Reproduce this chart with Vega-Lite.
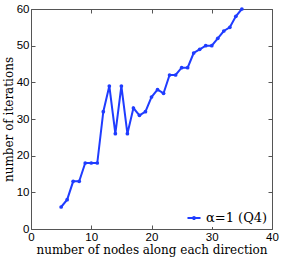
{
  "$schema": "https://vega.github.io/schema/vega-lite/v6.json",
  "autosize": "none",
  "width": 241,
  "height": 220,
  "padding": {"left": 31, "top": 9, "right": 9, "bottom": 30},
  "background": "white",
  "config": {
    "view": {"stroke": "#555555", "strokeWidth": 1},
    "axis": {
      "grid": false,
      "domain": false,
      "tickColor": "#555555",
      "tickSize": -4,
      "labelFont": "Liberation Sans",
      "labelFontSize": 11.5,
      "labelColor": "black",
      "titleFont": "DejaVu Serif",
      "titleFontSize": 12,
      "titleFontWeight": "normal",
      "titleColor": "black"
    }
  },
  "data": {
    "values": [
      {"n": 5, "it": 6, "s": "α=1 (Q4)"},
      {"n": 6, "it": 8, "s": "α=1 (Q4)"},
      {"n": 7, "it": 13, "s": "α=1 (Q4)"},
      {"n": 8, "it": 13, "s": "α=1 (Q4)"},
      {"n": 9, "it": 18, "s": "α=1 (Q4)"},
      {"n": 10, "it": 18, "s": "α=1 (Q4)"},
      {"n": 11, "it": 18, "s": "α=1 (Q4)"},
      {"n": 12, "it": 32, "s": "α=1 (Q4)"},
      {"n": 13, "it": 39, "s": "α=1 (Q4)"},
      {"n": 14, "it": 26, "s": "α=1 (Q4)"},
      {"n": 15, "it": 39, "s": "α=1 (Q4)"},
      {"n": 16, "it": 26, "s": "α=1 (Q4)"},
      {"n": 17, "it": 33, "s": "α=1 (Q4)"},
      {"n": 18, "it": 31, "s": "α=1 (Q4)"},
      {"n": 19, "it": 32, "s": "α=1 (Q4)"},
      {"n": 20, "it": 36, "s": "α=1 (Q4)"},
      {"n": 21, "it": 38, "s": "α=1 (Q4)"},
      {"n": 22, "it": 37, "s": "α=1 (Q4)"},
      {"n": 23, "it": 42, "s": "α=1 (Q4)"},
      {"n": 24, "it": 42, "s": "α=1 (Q4)"},
      {"n": 25, "it": 44, "s": "α=1 (Q4)"},
      {"n": 26, "it": 44, "s": "α=1 (Q4)"},
      {"n": 27, "it": 48, "s": "α=1 (Q4)"},
      {"n": 28, "it": 49, "s": "α=1 (Q4)"},
      {"n": 29, "it": 50, "s": "α=1 (Q4)"},
      {"n": 30, "it": 50, "s": "α=1 (Q4)"},
      {"n": 31, "it": 52, "s": "α=1 (Q4)"},
      {"n": 32, "it": 54, "s": "α=1 (Q4)"},
      {"n": 33, "it": 55, "s": "α=1 (Q4)"},
      {"n": 34, "it": 58, "s": "α=1 (Q4)"},
      {"n": 35, "it": 60, "s": "α=1 (Q4)"}
    ]
  },
  "layer": [
    {
      "mark": {"type": "line", "point": {"size": 14, "filled": true}, "strokeWidth": 2},
      "encoding": {
        "x": {
          "field": "n", "type": "quantitative",
          "scale": {"domain": [0, 40], "nice": false},
          "axis": {"values": [0, 10, 20, 30, 40], "title": "number of nodes along each direction", "labelPadding": 6, "titlePadding": 2, "labelFlush": false}
        },
        "y": {
          "field": "it", "type": "quantitative",
          "scale": {"domain": [0, 60], "nice": false},
          "axis": {"values": [0, 10, 20, 30, 40, 50, 60], "title": "number of iterations", "labelPadding": 6, "titlePadding": 1, "labelFlush": false}
        },
        "color": {
          "field": "s", "type": "nominal",
          "scale": {"range": ["#1f3cff"]},
          "legend": {
            "title": null,
            "orient": "bottom-right",
            "offset": 2,
            "padding": 2,
            "symbolType": "M-1,0H1M-0.15,0A0.15,0.15 0 1,0 0.15,0A0.15,0.15 0 1,0 -0.15,0Z",
            "symbolStrokeWidth": 2,
            "symbolFillColor": "#1f3cff",
            "symbolSize": 170,
            "labelFont": "DejaVu Serif",
            "labelFontSize": 13,
            "labelOffset": 4,
            "labelColor": "black",
            "fillColor": "white"
          }
        }
      }
    },
    {
      "mark": {"type": "point", "opacity": 0},
      "encoding": {
        "x": {
          "field": "n", "type": "quantitative",
          "scale": {"domain": [0, 40], "nice": false},
          "axis": {"orient": "top", "values": [0, 10, 20, 30, 40], "labels": false, "title": null}
        },
        "y": {
          "field": "it", "type": "quantitative",
          "scale": {"domain": [0, 60], "nice": false},
          "axis": {"orient": "right", "values": [0, 10, 20, 30, 40, 50, 60], "labels": false, "title": null}
        }
      }
    }
  ],
  "resolve": {"axis": {"x": "independent", "y": "independent"}}
}
